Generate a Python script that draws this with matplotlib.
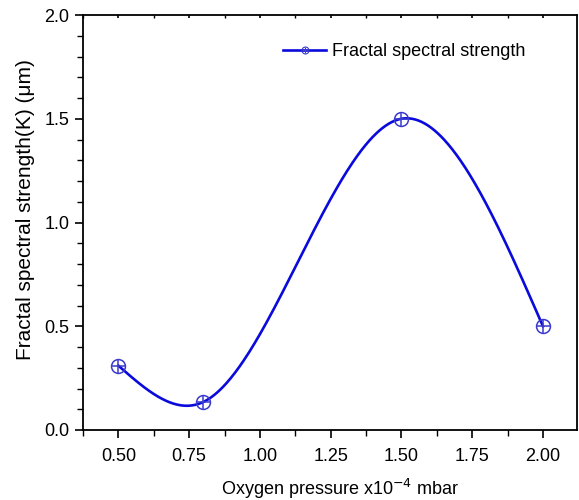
import matplotlib
matplotlib.use("Agg")
import matplotlib.pyplot as plt
import numpy as np
from matplotlib.lines import Line2D
from matplotlib.legend_handler import HandlerTuple
from matplotlib.ticker import MultipleLocator

plt.rcParams['font.family'] = ['Liberation Sans', 'DejaVu Sans']

# Measured points
pressure = np.array([0.5, 0.8, 1.5, 2.0])
strength = np.array([0.31, 0.135, 1.5, 0.5])
series_name = 'Fractal spectral strength'


def natural_spline(x, y, xs):
    # natural cubic spline through the measured points (smooth connecting line)
    n = len(x)
    h = np.diff(x)
    A = np.zeros((n, n))
    b = np.zeros(n)
    A[0, 0] = A[-1, -1] = 1.0
    for i in range(1, n - 1):
        A[i, i - 1] = h[i - 1]
        A[i, i] = 2 * (h[i - 1] + h[i])
        A[i, i + 1] = h[i]
        b[i] = 6 * ((y[i + 1] - y[i]) / h[i] - (y[i] - y[i - 1]) / h[i - 1])
    M = np.linalg.solve(A, b)
    idx = np.clip(np.searchsorted(x, xs) - 1, 0, n - 2)
    x0, x1 = x[idx], x[idx + 1]
    hh = h[idx]
    t0, t1 = x1 - xs, xs - x0
    return (M[idx] * t0**3 / (6 * hh) + M[idx + 1] * t1**3 / (6 * hh)
            + (y[idx] / hh - M[idx] * hh / 6) * t0
            + (y[idx + 1] / hh - M[idx + 1] * hh / 6) * t1)


xs = np.linspace(pressure[0], pressure[-1], 400)
ys = natural_spline(pressure, strength, xs)

fig = plt.figure(figsize=(5.79, 5.0), dpi=100)
ax = fig.add_axes([0.1434, 0.14, 0.853, 0.83])

blue = '#0a0adc'
mk = '#3a3ad0'
ax.plot(xs, ys, color=blue, lw=1.9, zorder=2)
ax.plot(pressure, strength, ls='none', marker='o', ms=10, mfc='none',
        mec=mk, mew=1.1, zorder=3)
ax.plot(pressure, strength, ls='none', marker='+', ms=10, mec=mk,
        mew=1.1, zorder=3)

ax.set_xlim(0.375, 2.12)
ax.set_ylim(0, 2.0)
ax.xaxis.set_major_locator(MultipleLocator(0.25))
ax.xaxis.set_minor_locator(MultipleLocator(0.125))
ax.yaxis.set_major_locator(MultipleLocator(0.5))
ax.yaxis.set_minor_locator(MultipleLocator(0.1))
ax.xaxis.set_major_formatter(lambda v, p: f'{v:.2f}')
ax.yaxis.set_major_formatter(lambda v, p: f'{v:.1f}')

ax.tick_params(which='major', direction='out', length=6, width=1.2,
               labelsize=13, colors='black')
ax.tick_params(which='minor', direction='out', length=4, width=1.0)
ax.tick_params(axis='x', which='both', top=True)
ax.tick_params(axis='x', which='major', pad=7)
ax.tick_params(axis='y', which='major', pad=4)
for tk in ax.xaxis.get_major_ticks() + ax.xaxis.get_minor_ticks():
    tk.tick2line.set_markersize(2)
    tk.tick2line.set_marker(3)
for sp in ax.spines.values():
    sp.set_linewidth(1.3)

ax.set_xlabel('Oxygen pressure x10$^{-4}$ mbar', fontsize=13,
              verticalalignment='baseline')
ax.xaxis.set_label_coords(0.52, -0.156)
ax.set_ylabel('Fractal spectral strength(K) (\u03bcm)', fontsize=15,
              verticalalignment='center')
ax.yaxis.set_label_coords(-0.117, 0.53)

h_line = Line2D([], [], color=blue, lw=1.9, marker='o', ms=5, mfc='none',
                mec=mk, mew=0.8)
h_plus = Line2D([], [], ls='none', marker='+', ms=5, mec=mk, mew=0.8)
ax.legend([(h_line, h_plus)], [series_name], handler_map={tuple: HandlerTuple(ndivide=1)},
          loc='center left', bbox_to_anchor=(0.405, 0.911), frameon=False,
          fontsize=13, handlelength=2.4, handletextpad=0.3,
          borderpad=0, borderaxespad=0)

fig.savefig('out.png', dpi=100)
